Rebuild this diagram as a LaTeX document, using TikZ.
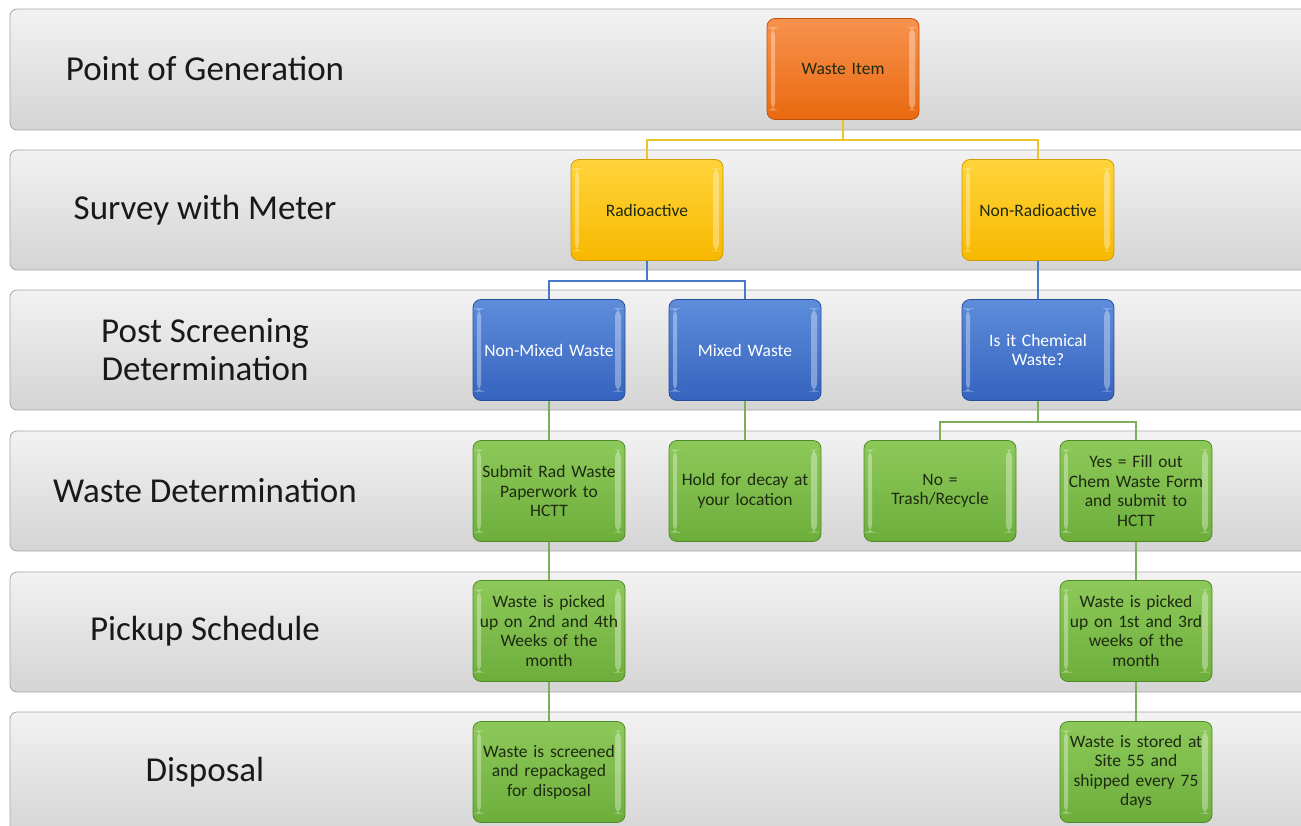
\documentclass[tikz,border=0pt]{standalone}
\usepackage{fontspec}
\setmainfont{Carlito}
\definecolor{bandtop}{HTML}{F2F2F2}
\definecolor{bandbot}{HTML}{D4D4D4}
\definecolor{bandedge}{HTML}{A6A6A6}
\definecolor{orgtop}{HTML}{F8924E}
\definecolor{orgbot}{HTML}{E9690F}
\definecolor{orgedge}{HTML}{C0540A}
\definecolor{yeltop}{HTML}{FFD43A}
\definecolor{yelbot}{HTML}{F7B800}
\definecolor{yeledge}{HTML}{D09A00}
\definecolor{blutop}{HTML}{5E8DDB}
\definecolor{blubot}{HTML}{3563BE}
\definecolor{bluedge}{HTML}{2A4F9A}
\definecolor{grntop}{HTML}{8DC95A}
\definecolor{grnbot}{HTML}{6DAE3B}
\definecolor{grnedge}{HTML}{4F8A28}
\definecolor{yconnc}{HTML}{EAC42A}
\definecolor{bconnc}{HTML}{4A78C8}
\definecolor{gconnc}{HTML}{7DAE5A}
\definecolor{darktext}{HTML}{1E2A12}
\tikzset{
  x=1pt, y=-1pt,
  band/.style={rounded corners=7pt, top color=bandtop, bottom color=bandbot, draw=bandedge, line width=0.8pt},
  bandlabel/.style={font=\fontsize{35}{38}\selectfont, text=black!90, align=center},
  bevel/.style={path picture={
      \fill[white,opacity=0.35] ([xshift=4pt,yshift=-9pt]path picture bounding box.north west) rectangle ([xshift=8pt,yshift=9pt]path picture bounding box.south west);
      \fill[white,opacity=0.35] ([xshift=-10pt,yshift=-9pt]path picture bounding box.north east) rectangle ([xshift=-4pt,yshift=9pt]path picture bounding box.south east);
  }},
  box/.style={rectangle, rounded corners=8pt, minimum width=151pt, minimum height=101pt, text width=152pt, align=center, inner sep=0pt, font=\fontsize{17.5}{19.5}\selectfont, line width=0.8pt, bevel},
  orangebox/.style={box, top color=orgtop, bottom color=orgbot, draw=orgedge, text=darktext},
  yellowbox/.style={box, top color=yeltop, bottom color=yelbot, draw=yeledge, text=darktext},
  bluebox/.style={box, top color=blutop, bottom color=blubot, draw=bluedge, text=white},
  greenbox/.style={box, top color=grntop, bottom color=grnbot, draw=grnedge, text=darktext},
  yconn/.style={draw=yconnc, line width=2.4pt},
  bconn/.style={draw=bconnc, line width=2.4pt},
  gconn/.style={draw=gconnc, line width=2.4pt},
}
\begin{document}
\begin{tikzpicture}
\useasboundingbox (0,0) rectangle (1301,826);
\fill[white] (0,0) rectangle (1301,826);
% bands
\path[band] (10,9) rectangle (1320,130);
\path[band] (10,150) rectangle (1320,270);
\path[band] (10,290) rectangle (1320,410);
\path[band] (10,431) rectangle (1320,551);
\path[band] (10,572) rectangle (1320,692);
\path[band] (10,712) rectangle (1320,840);
% band labels
\node[bandlabel] (l1) at (205,69) {Point of Generation};
\node[bandlabel] (l2) at (205,210) {Survey with Meter};
\node[bandlabel] (l3) at (205,350) {Post Screening\\Determination};
\node[bandlabel] (l4) at (205,491) {Waste Determination};
\node[bandlabel] (l5) at (205,631) {Pickup Schedule};
\node[bandlabel] (l6) at (205,772) {Disposal};
% nodes
\node[orangebox] (wi) at (843,69) {Waste Item};
\node[yellowbox] (rad) at (647,210) {Radioactive};
\node[yellowbox] (nrad) at (1038,210) {Non-Radioactive};
\node[bluebox] (nmix) at (549,350) {Non-Mixed Waste};
\node[bluebox] (mix) at (745,350) {Mixed Waste};
\node[bluebox] (chem) at (1038,350) {Is it Chemical\\Waste?};
\node[greenbox] (sub) at (549,491) {Submit Rad Waste\\Paperwork to\\HCTT};
\node[greenbox] (hold) at (745,491) {Hold for decay at\\your location};
\node[greenbox] (no) at (940,491) {No =\\Trash/Recycle};
\node[greenbox] (yes) at (1136,491) {Yes = Fill out\\Chem Waste Form\\and submit to\\HCTT};
\node[greenbox] (pk1) at (549,631) {Waste is picked\\up on 2nd and 4th\\Weeks of the\\month};
\node[greenbox] (pk2) at (1136,631) {Waste is picked\\up on 1st and 3rd\\weeks of the\\month};
\node[greenbox] (sc) at (549,772) {Waste is screened\\and repackaged\\for disposal};
\node[greenbox] (st) at (1136,772) {Waste is stored at\\Site 55 and\\shipped every 75\\days};
% connectors
\draw[yconn] (wi.south) -- ++(0,20) -| (rad.north);
\draw[yconn] (wi.south) -- ++(0,20) -| (nrad.north);
\draw[bconn] (rad.south) -- ++(0,20) -| (nmix.north);
\draw[bconn] (rad.south) -- ++(0,20) -| (mix.north);
\draw[bconn] (nrad.south) -- (chem.north);
\draw[gconn] (chem.south) -- ++(0,21) -| (no.north);
\draw[gconn] (chem.south) -- ++(0,21) -| (yes.north);
\draw[gconn] (nmix.south) -- (sub.north);
\draw[gconn] (mix.south) -- (hold.north);
\draw[gconn] (sub.south) -- (pk1.north);
\draw[gconn] (pk1.south) -- (sc.north);
\draw[gconn] (yes.south) -- (pk2.north);
\draw[gconn] (pk2.south) -- (st.north);
\end{tikzpicture}
\end{document}
